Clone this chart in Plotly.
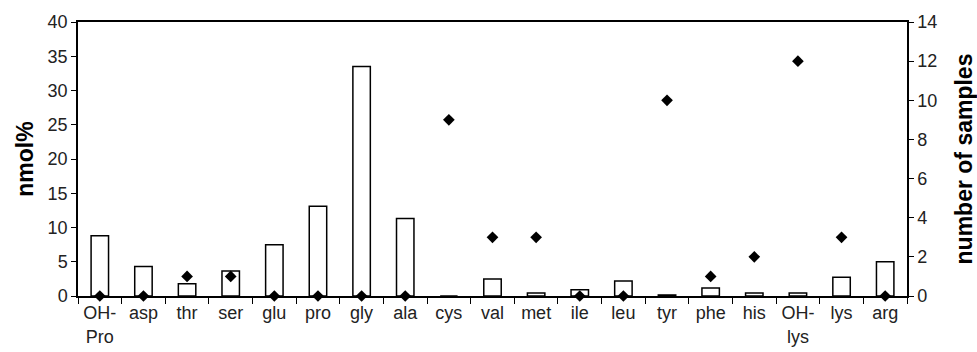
import plotly.graph_objects as go

categories = ["OH-<br>Pro", "asp", "thr", "ser", "glu", "pro", "gly", "ala", "cys", "val",
              "met", "ile", "leu", "tyr", "phe", "his", "OH-<br>lys", "lys", "arg"]
nmol_percent = [8.8, 4.3, 1.8, 3.65, 7.5, 13.1, 33.5, 11.3, 0.0, 2.5,
                0.45, 0.9, 2.2, 0.15, 1.15, 0.45, 0.45, 2.75, 5.0]
num_samples = [0, 0, 1, 1, 0, 0, 0, 0, 9, 3, 3, 0, 0, 10, 1, 2, 12, 3, 0]

font_family = "Liberation Sans, Arial, sans-serif"

fig = go.Figure()
fig.add_trace(go.Bar(
    x=categories, y=nmol_percent, width=0.4,
    marker=dict(color="white", line=dict(color="black", width=1.5)),
    showlegend=False,
))
fig.add_trace(go.Scatter(
    x=categories, y=num_samples, yaxis="y2", mode="markers",
    marker=dict(symbol="diamond", color="black", size=9),
    cliponaxis=False, showlegend=False,
))

fig.update_layout(
    width=977, height=352,
    margin=dict(l=78, r=70, t=22, b=56),
    paper_bgcolor="white", plot_bgcolor="white",
    font=dict(family=font_family, size=18, color="#222"),
    xaxis=dict(
        type="category", range=[-0.5, len(categories) - 0.5], automargin=False,
        showline=True, linecolor="black", linewidth=1.5, mirror=True,
        ticks="outside", tickson="boundaries", ticklen=6, tickcolor="black",
        showgrid=False, tickfont=dict(size=18),
    ),
    yaxis=dict(
        range=[0, 40], dtick=5, showline=True, linecolor="black", linewidth=1.5,
        automargin=False,
        ticks="outside", ticklen=5, tickcolor="black", showgrid=False, zeroline=False,
        title=dict(text="<b>nmol%</b>", font=dict(size=23, color="black"), standoff=8),
        tickfont=dict(size=18),
    ),
    yaxis2=dict(
        range=[0, 14], dtick=2, overlaying="y", side="right",
        showline=True, linecolor="black", linewidth=1.5, automargin=False,
        ticks="outside", ticklen=5, tickcolor="black", showgrid=False, zeroline=False,
        title=dict(text="<b>number of samples</b>", font=dict(size=23, color="black"), standoff=20),
        tickfont=dict(size=18),
    ),
)

fig.write_html("out.html")
